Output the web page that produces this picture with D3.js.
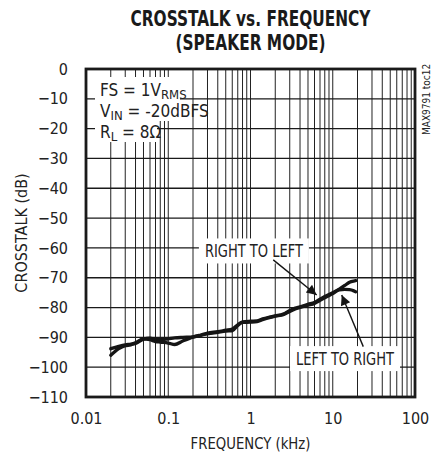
<!DOCTYPE html>
<html>
<head>
<meta charset="utf-8">
<script src="https://cdn.jsdelivr.net/npm/d3@7"></script>
<style>
  html, body { margin: 0; padding: 0; background: #fff; }
  svg { display: block; }
  .lbl { font-family: 'Liberation Sans Narrow', 'DejaVu Sans Condensed', 'Arial Narrow', sans-serif; fill: #222; }
</style>
</head>
<body>
<svg id="chart" width="435" height="458"></svg>
<script>
// ---------------- data ----------------
const titleLines = ["CROSSTALK vs. FREQUENCY", "(SPEAKER MODE)"];
const xTickValues = [0.01, 0.1, 1, 10, 100];
const xTickLabels = ["0.01", "0.1", "1", "10", "100"];
const yTickValues = [0, -10, -20, -30, -40, -50, -60, -70, -80, -90, -100, -110];
const xAxisTitle = "FREQUENCY (kHz)";
const yAxisTitle = "CROSSTALK (dB)";
const partId = "MAX9791 toc12";

const freq = [0.02, 0.025, 0.03, 0.035, 0.04, 0.05, 0.06, 0.07, 0.08, 0.1, 0.12, 0.15, 0.2, 0.25, 0.3, 0.4, 0.5, 0.6, 0.7, 0.8, 1, 1.2, 1.4, 1.7, 2, 2.5, 3, 3.5, 4, 5, 6, 7, 8, 10, 12, 14, 16, 18, 19];
const rightToLeft = [-93.8, -93.0, -92.5, -92.3, -92.0, -90.6, -90.3, -90.6, -90.8, -90.5, -90.2, -90.0, -89.8, -89.2, -88.6, -88.1, -87.6, -87.2, -85.8, -84.8, -84.6, -84.5, -83.8, -83.2, -82.8, -82.2, -81.0, -80.2, -79.8, -78.9, -78.3, -77.2, -76.3, -75.0, -73.8, -72.6, -71.5, -71.1, -71.0];
const leftToRight = [-96.0, -93.8, -92.8, -92.5, -91.8, -90.5, -90.8, -91.4, -91.6, -91.9, -92.4, -91.2, -89.9, -89.3, -88.8, -88.3, -87.9, -87.8, -86.0, -85.0, -84.9, -84.7, -84.1, -83.4, -82.9, -82.4, -81.3, -80.5, -80.0, -79.2, -78.6, -77.6, -76.7, -75.3, -74.1, -73.9, -74.0, -74.4, -74.7];

// annotations in data units
const seriesLabels = ["RIGHT TO LEFT", "LEFT TO RIGHT"];
const labelPos = [[1.1, -63.2], [14.1, -99.3]];
const arrowFrom = [[1.89, -64.0], [23.5, -93.1]];
const arrowTo = [[6.38, -75.8], [12.85, -75.8]];

// ---------------- layout ----------------
const svg = d3.select("#chart");
const x = d3.scaleLog().domain([0.01, 100]).range([86, 415]);
const y = d3.scaleLinear().domain([-110, 0]).range([397, 69]);
const font = "'Liberation Sans Narrow', 'DejaVu Sans Condensed', 'Arial Narrow', sans-serif";

// grid
const minorVals = [];
for (let d = 0.01; d < 100; d *= 10) for (let k = 1; k <= 9; k++) minorVals.push(+(d * k).toPrecision(3));
const grid = svg.append("g");
grid.selectAll("line.v").data(minorVals).join("line")
  .attr("x1", d => x(d)).attr("x2", d => x(d))
  .attr("y1", y(0)).attr("y2", y(-110))
  .attr("stroke", "#222").attr("stroke-width", 1);
grid.selectAll("line.h").data(yTickValues).join("line")
  .attr("x1", x(0.01)).attr("x2", x(100))
  .attr("y1", d => y(d)).attr("y2", d => y(d))
  .attr("stroke", "#1a1a1a").attr("stroke-width", 1.3);

// condition box (white knock-outs)
const condBoxes = [[95, 77, 85, 23], [95, 100, 96, 21], [95, 121, 62, 21]];
svg.append("g").selectAll("rect").data(condBoxes).join("rect")
  .attr("x", d => d[0]).attr("y", d => d[1]).attr("width", d => d[2]).attr("height", d => d[3])
  .attr("fill", "#fff");

// series label knock-outs
const lblBoxW = [110, 110];
const lblBoxes = svg.append("g");
seriesLabels.forEach((s, i) => {
  const cx = x(labelPos[i][0]), by = y(labelPos[i][1]);
  lblBoxes.append("rect")
    .attr("x", cx - lblBoxW[i] / 2).attr("y", by - 19)
    .attr("width", lblBoxW[i]).attr("height", 25)
    .attr("fill", "#fff");
});

// frame
svg.append("rect")
  .attr("x", x(0.01)).attr("y", y(0))
  .attr("width", x(100) - x(0.01)).attr("height", y(-110) - y(0))
  .attr("fill", "none").attr("stroke", "#1a1a1a").attr("stroke-width", 2.8);

// curves
const line = d3.line().x((d, i) => x(freq[i])).y(d => y(d)).curve(d3.curveMonotoneX);
[rightToLeft, leftToRight].forEach(s => {
  svg.append("path").attr("d", line(s))
    .attr("fill", "none").attr("stroke", "#151515").attr("stroke-width", 3.3)
    .attr("stroke-linejoin", "round").attr("stroke-linecap", "round");
});

// arrows
svg.append("defs").append("marker")
  .attr("id", "ah").attr("viewBox", "0 0 10 10").attr("refX", 10).attr("refY", 5)
  .attr("markerWidth", 15).attr("markerHeight", 10).attr("markerUnits", "userSpaceOnUse")
  .attr("orient", "auto")
  .append("path").attr("d", "M0,0 L10,5 L0,10 Z").attr("fill", "#151515");
arrowFrom.forEach((a, i) => {
  svg.append("line")
    .attr("x1", x(a[0])).attr("y1", y(a[1]))
    .attr("x2", x(arrowTo[i][0])).attr("y2", y(arrowTo[i][1]))
    .attr("stroke", "#151515").attr("stroke-width", 1.4)
    .attr("marker-end", "url(#ah)");
});

// helper: squeeze text horizontally to a target width with a transform
function squeeze(sel, cx, by, target, anchor) {
  const w = sel.node().getComputedTextLength();
  const sx = Math.min(1, target / w);
  sel.attr("x", 0).attr("y", 0).attr("text-anchor", anchor || "middle")
    .attr("transform", `translate(${cx},${by}) scale(${sx},1)`);
}

// series labels
seriesLabels.forEach((s, i) => {
  const t = svg.append("text").attr("class", "lbl").attr("font-size", 17).text(s);
  squeeze(t, x(labelPos[i][0]), y(labelPos[i][1]), 98);
});

// condition text
const cond = svg.append("g").attr("class", "lbl").attr("font-size", 17);
const t1 = cond.append("text").attr("x", 100).attr("y", 96);
t1.append("tspan").text("FS = 1V");
t1.append("tspan").attr("font-size", 13).attr("dy", 3).text("RMS");
const t2 = cond.append("text").attr("x", 100).attr("y", 117);
t2.append("tspan").text("V");
t2.append("tspan").attr("font-size", 13).attr("dy", 3).text("IN");
t2.append("tspan").attr("dy", -3).text(" = -20dBFS");
const t3 = cond.append("text").attr("x", 100).attr("y", 138);
t3.append("tspan").text("R");
t3.append("tspan").attr("font-size", 13).attr("dy", 3).text("L");
t3.append("tspan").attr("dy", -3).text(" = 8Ω");

// axes
const xAxis = d3.axisBottom(x).tickValues(xTickValues)
  .tickFormat((d, i) => xTickLabels[i]).tickSize(0).tickPadding(16);
const gx = svg.append("g").attr("transform", `translate(0,${y(-110)})`).call(xAxis);
gx.select(".domain").remove();
gx.selectAll("text").attr("font-family", font).attr("font-size", 16).attr("fill", "#222");

const yAxis = d3.axisLeft(y).tickValues(yTickValues).tickSize(0).tickPadding(18);
const gy = svg.append("g").attr("transform", `translate(${x(0.01)},0)`).call(yAxis);
gy.select(".domain").remove();
gy.selectAll("text").attr("font-family", font).attr("font-size", 16).attr("fill", "#222");

// axis titles
const xt = svg.append("text").attr("class", "lbl").attr("font-size", 16).text(xAxisTitle);
squeeze(xt, (x(0.01) + x(100)) / 2, 449, 120);
svg.append("text").attr("class", "lbl")
  .attr("transform", `translate(27,${(y(0) + y(-110)) / 2}) rotate(-90)`)
  .attr("text-anchor", "middle").attr("font-size", 16)
  .text(yAxisTitle);

// title
const titleY = [26, 50];
const titleW = [240, 150];
titleLines.forEach((t, i) => {
  const tt = svg.append("text")
    .attr("font-family", "'DejaVu Sans Condensed', 'Liberation Sans', sans-serif")
    .attr("font-weight", "bold").attr("font-size", 22)
    .attr("fill", "#1a1a1a")
    .text(t);
  squeeze(tt, (x(0.01) + x(100)) / 2, titleY[i], titleW[i]);
});

// part id
svg.append("text").attr("class", "lbl")
  .attr("transform", `translate(430,135) rotate(-90)`)
  .attr("font-size", 10).attr("fill", "#555")
  .text(partId);
</script>
</body>
</html>
